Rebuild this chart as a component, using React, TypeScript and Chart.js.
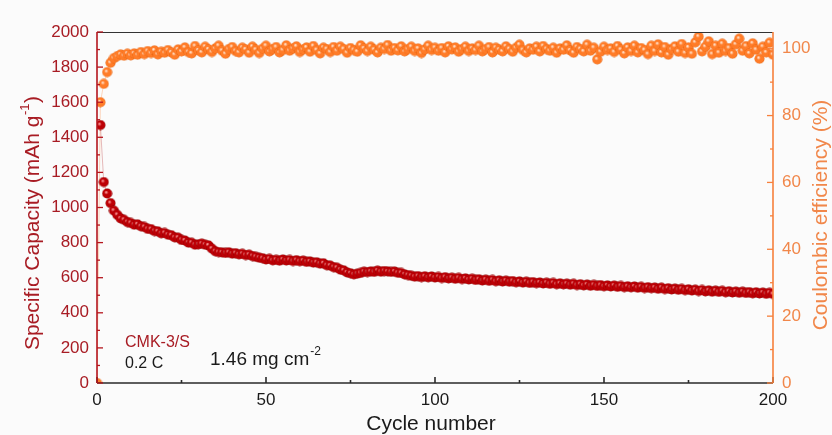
import React, { useEffect, useRef } from 'react';
import { Chart, registerables } from 'chart.js';

Chart.register(...registerables);

// Specific capacity (mAh g-1), cycles 1..200
const capacity = [
  1470, 1145, 1080, 1025, 982, 958, 938, 930, 917, 912,
  902, 904, 893, 889, 878, 877, 866, 864, 853, 855,
  845, 842, 830, 828, 815, 812, 800, 799, 788, 790,
  794, 788, 784, 766, 751, 746, 744, 741, 745, 737,
  740, 733, 736, 729, 731, 723, 719, 714, 711, 704,
  707, 699, 702, 697, 704, 698, 701, 695, 700, 694,
  697, 690, 693, 686, 688, 680, 682, 671, 669, 660,
  657, 646, 642, 630, 625, 619, 623, 627, 634, 632,
  636, 633, 640, 634, 638, 636, 633, 635, 628, 627,
  619, 615, 611, 606, 609, 603, 608, 602, 607, 601,
  604, 598, 603, 596, 600, 594, 599, 592, 596, 590,
  594, 587, 591, 584, 589, 582, 587, 580, 585, 578,
  583, 577, 581, 574, 579, 572, 577, 570, 575, 569,
  573, 567, 571, 565, 570, 563, 568, 562, 566, 560,
  565, 558, 563, 556, 561, 554, 559, 553, 558, 551,
  556, 550, 555, 548, 553, 546, 551, 545, 550, 543,
  548, 541, 546, 540, 544, 537, 543, 535, 540, 533,
  538, 531, 536, 529, 534, 527, 532, 524, 530, 522,
  528, 520, 526, 519, 525, 517, 523, 516, 521, 514,
  520, 513, 518, 511, 517, 510, 515, 508, 514, 507,
];

// Coulombic efficiency (%), cycles 0..200
const efficiency = [
  0,
  84, 89.5, 93, 95.8, 97.2, 97.8, 98.3, 97.9, 98.5, 98.0,
  98.6, 98.2, 99.0, 98.4, 99.3, 98.7, 99.5, 98.3, 99.1, 98.8,
  99.6, 98.9, 98.2, 99.8, 99.2, 100.4, 99.0, 98.6, 100.8, 99.5,
  98.9, 100.6, 99.8, 99.0, 100.1, 100.9, 99.4, 98.5, 99.9, 100.5,
  99.3, 98.9, 100.3, 99.8, 98.8, 100.6, 99.7, 98.7, 100.0, 100.9,
  99.2, 99.9, 100.5, 98.9, 99.6, 101.0, 99.4, 100.1, 100.7, 99.0,
  99.8, 100.4, 99.1, 100.8, 99.6, 98.6, 100.3, 99.9, 99.0, 100.5,
  99.4, 100.6, 99.9, 98.8, 100.2, 99.6, 99.1, 101.0, 100.1, 99.3,
  100.6, 99.7, 98.9, 100.3, 99.9, 101.1, 99.4, 100.2, 99.5, 100.7,
  99.2, 99.9, 100.6, 99.3, 100.1, 98.7, 99.8, 100.9, 99.6, 100.3,
  99.4, 100.2, 98.9, 100.7, 99.8, 100.4, 99.1, 99.9, 100.6, 99.3,
  100.1, 99.6, 100.9, 99.2, 99.9, 100.5, 98.9, 100.3, 99.7, 99.2,
  100.7, 99.9, 99.1, 100.3, 101.2, 99.6, 98.9, 100.1, 99.7, 100.6,
  99.2, 100.8, 99.9, 99.4, 100.3, 98.8, 100.1, 99.7, 101.0, 99.5,
  98.8, 100.5, 99.9, 99.2, 101.2, 99.4, 100.3, 96.8, 99.1, 100.6,
  99.6, 100.1, 99.0, 100.8, 99.7, 98.6, 100.4, 99.3, 100.9, 98.9,
  100.2, 99.6, 98.4, 100.9, 99.3, 101.3, 98.9, 100.5, 98.2, 99.9,
  100.7, 99.1, 101.4, 98.7, 100.4, 98.5, 101.9, 103.6, 99.2, 100.6,
  102.2, 98.4, 100.9, 98.8, 101.5, 99.3, 100.2, 98.5, 101.3, 103.0,
  99.4, 100.8, 98.6, 101.6, 99.7, 97.0, 100.6, 98.9, 101.8, 98.2,
];

const capTicks = [0, 200, 400, 600, 800, 1000, 1200, 1400, 1600, 1800, 2000];
const ceTicks = [0, 20, 40, 60, 80, 100];
const cycleTicks = [0, 50, 100, 150, 200];

const FONT = "'Liberation Sans', Arial, sans-serif";
const RED = '#bd0006';
const RED_AXIS = '#b5161e';
const RED_TEXT = '#a81c24';
const ORANGE = '#ff7c28';
const ORANGE_AXIS = '#f7803c';
const ORANGE_TEXT = '#f1874a';

function makeMarker(base: string, light: string, dark: string) {
  const size = 11;
  const c = document.createElement('canvas');
  c.width = size;
  c.height = size;
  const ctx = c.getContext('2d')!;
  const r = 5;
  const cx = size / 2;
  const g = ctx.createRadialGradient(cx - 1.2, cx - 1.4, 0.3, cx, cx, r);
  g.addColorStop(0, light);
  g.addColorStop(0.38, base);
  g.addColorStop(0.85, base);
  g.addColorStop(1, dark);
  ctx.beginPath();
  ctx.arc(cx, cx, r, 0, Math.PI * 2);
  ctx.fillStyle = g;
  ctx.fill();
  return c;
}

const decorPlugin = {
  id: 'decor',
  afterDatasetsDraw(chart: any) {
    const { ctx, chartArea } = chart;
    const { left, right, top, bottom } = chartArea;
    const x = chart.scales.x;
    const y = chart.scales.y;
    const y2 = chart.scales.y2;
    ctx.save();
    // frame
    ctx.lineWidth = 1.2;
    ctx.strokeStyle = '#333';
    ctx.beginPath();
    ctx.moveTo(left, top + 0.5);
    ctx.lineTo(right, top + 0.5);
    ctx.stroke();
    ctx.lineWidth = 1.6;
    ctx.strokeStyle = '#2a2a2a';
    ctx.beginPath();
    ctx.moveTo(left, bottom);
    ctx.lineTo(right, bottom);
    ctx.stroke();
    for (let v = 0; v <= 200; v += 25) {
      const px = x.getPixelForValue(v);
      const len = v % 50 === 0 ? 6 : 3;
      ctx.beginPath();
      ctx.moveTo(px, bottom);
      ctx.lineTo(px, bottom - len);
      ctx.stroke();
    }
    // left axis
    ctx.strokeStyle = RED_AXIS;
    ctx.lineWidth = 1.6;
    ctx.beginPath();
    ctx.moveTo(left, top);
    ctx.lineTo(left, bottom);
    ctx.stroke();
    ctx.lineWidth = 1.3;
    for (let v = 0; v <= 2000; v += 100) {
      const py = y.getPixelForValue(v);
      const len = v % 200 === 0 ? 6 : 3;
      ctx.beginPath();
      ctx.moveTo(left, py);
      ctx.lineTo(left + len, py);
      ctx.stroke();
    }
    // right axis
    ctx.strokeStyle = ORANGE_AXIS;
    ctx.lineWidth = 1.6;
    ctx.beginPath();
    ctx.moveTo(right, top);
    ctx.lineTo(right, bottom);
    ctx.stroke();
    ctx.lineWidth = 1.3;
    for (let v = 0; v <= 100; v += 10) {
      const py = y2.getPixelForValue(v);
      const len = v % 20 === 0 ? 6 : 3;
      ctx.beginPath();
      ctx.moveTo(right, py);
      ctx.lineTo(right - len, py);
      ctx.stroke();
    }

    ctx.textBaseline = 'middle';
    ctx.save();
    ctx.translate(33, 223);
    ctx.rotate(-Math.PI / 2);
    ctx.fillStyle = RED_TEXT;
    const tMain = `21px ${FONT}`;
    const tSup = `13px ${FONT}`;
    const a = 'Specific Capacity (mAh g';
    const b = ')';
    ctx.font = tMain;
    const wa = ctx.measureText(a).width;
    const wb = ctx.measureText(b).width;
    ctx.font = tSup;
    const ws = ctx.measureText('-1').width;
    const total = wa + ws + wb + 1;
    let sx = -total / 2;
    ctx.textAlign = 'left';
    ctx.font = tMain;
    ctx.fillText(a, sx, 0);
    sx += wa;
    ctx.font = tSup;
    ctx.fillText('-1', sx + 0.5, -8);
    sx += ws + 1;
    ctx.font = tMain;
    ctx.fillText(b, sx, 0);
    ctx.restore();

    ctx.save();
    ctx.translate(821, 215);
    ctx.rotate(-Math.PI / 2);
    ctx.fillStyle = ORANGE_TEXT;
    ctx.font = tMain;
    ctx.textAlign = 'center';
    ctx.fillText('Coulombic efficiency (%)', 0, 0);
    ctx.restore();

    ctx.fillStyle = '#1a1a1a';
    ctx.font = tMain;
    ctx.textAlign = 'center';
    ctx.fillText('Cycle number', 431, 424);

    ctx.textAlign = 'left';
    ctx.font = `16px ${FONT}`;
    ctx.fillStyle = RED_TEXT;
    ctx.fillText('CMK-3/S', 125, 343);
    ctx.fillStyle = '#1a1a1a';
    ctx.fillText('0.2 C', 125, 364);
    ctx.font = `19px ${FONT}`;
    const m = '1.46 mg cm';
    ctx.fillText(m, 210, 360);
    const wm = ctx.measureText(m).width;
    ctx.font = `12px ${FONT}`;
    ctx.fillText('-2', 210 + wm + 1, 352);
    ctx.restore();
  },
};

const plain = (v: any) => String(v);

export default function App() {
  const ref = useRef<HTMLCanvasElement>(null);
  useEffect(() => {
    if (!ref.current) return;
    const redImg = makeMarker(RED, '#ffa0a0', '#8a0000');
    const orImg = makeMarker(ORANGE, '#ffe8d6', '#e4620e');
    const capData = capacity.map((v, i) => ({ x: i + 1, y: v }));
    const ceData = efficiency.map((v, i) => ({ x: i, y: v }));
    const tickFont = { family: FONT, size: 17 };
    const chart = new Chart(ref.current, {
      type: 'line',
      data: {
        datasets: [
          {
            label: 'Specific Capacity',
            data: capData,
            yAxisID: 'y',
            pointStyle: redImg as any,
            pointRadius: 5,
            borderColor: 'rgba(190,60,60,0.35)',
            borderWidth: 1,
            showLine: true,
          },
          {
            label: 'Coulombic efficiency',
            data: ceData,
            yAxisID: 'y2',
            pointStyle: orImg as any,
            pointRadius: 5,
            borderColor: 'rgba(255,140,70,0.35)',
            borderWidth: 1,
            showLine: true,
          },
        ],
      },
      options: {
        responsive: false,
        animation: false,
        layout: { padding: { top: 32, left: 0, right: 0, bottom: 0 } },
        plugins: { legend: { display: false }, tooltip: { enabled: false } },
        scales: {
          x: {
            type: 'linear',
            min: 0,
            max: 200,
            afterBuildTicks: (s: any) => {
              s.ticks = cycleTicks.map((v) => ({ value: v }));
            },
            ticks: { padding: 7, color: '#1a1a1a', font: tickFont, autoSkip: false, maxRotation: 0, callback: plain },
            grid: { display: false, drawTicks: false },
            border: { display: false },
            afterFit: (s: any) => {
              s.height = 52;
            },
          },
          y: {
            position: 'left',
            min: 0,
            max: 2000,
            afterBuildTicks: (s: any) => {
              s.ticks = capTicks.map((v) => ({ value: v }));
            },
            ticks: { padding: 8, color: RED_TEXT, font: tickFont, autoSkip: false, callback: plain },
            grid: { display: false, drawTicks: false },
            border: { display: false },
            afterFit: (s: any) => {
              s.width = 97;
            },
          },
          y2: {
            position: 'right',
            min: 0,
            max: 105,
            afterBuildTicks: (s: any) => {
              s.ticks = ceTicks.map((v) => ({ value: v }));
            },
            ticks: { padding: 9, color: ORANGE_TEXT, font: tickFont, autoSkip: false, callback: plain },
            grid: { display: false, drawTicks: false },
            border: { display: false },
            afterFit: (s: any) => {
              s.width = 59;
            },
          },
        },
      } as any,
      plugins: [decorPlugin],
    });
    return () => chart.destroy();
  }, []);
  return (
    <div style={{ position: 'absolute', left: 0, top: 0, width: 832, height: 435, background: '#fbfbfb' }}>
      <canvas ref={ref} width={832} height={435} style={{ display: 'block' }} />
    </div>
  );
}
